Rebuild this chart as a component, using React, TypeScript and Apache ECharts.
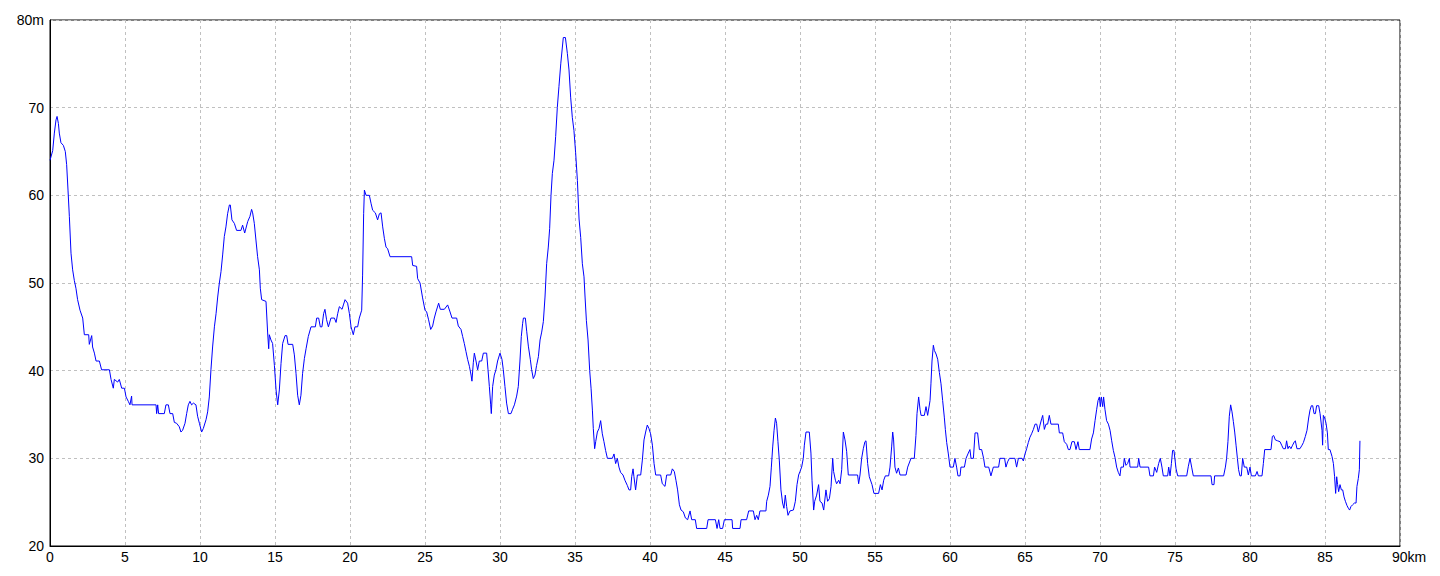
import React, { useEffect, useRef } from "react";
import * as echarts from "echarts";

// Distance along the route (km)
const distanceKm: number[] = [
  0, 0.18, 0.29, 0.4, 0.47, 0.56, 0.62, 0.73, 0.89, 1.02, 1.11, 1.2, 1.29, 1.4, 1.51, 1.62, 1.73, 1.84, 2.0, 2.18,
  2.29, 2.58, 2.62, 2.78, 2.84, 2.96, 3.07, 3.29, 3.44, 3.96, 4.07, 4.22, 4.29, 4.51, 4.62, 4.78, 4.96, 5.07, 5.22, 5.33,
  5.44, 5.47, 7.07, 7.11, 7.18, 7.24, 7.62, 7.73, 7.89, 8.0, 8.18, 8.29, 8.44, 8.62, 8.73, 8.84, 9.0, 9.11, 9.22, 9.33,
  9.44, 9.56, 9.73, 9.84, 9.96, 10.11, 10.22, 10.4, 10.51, 10.62, 10.73, 10.84, 10.96, 11.07, 11.18, 11.29, 11.4, 11.51, 11.62, 11.73,
  11.84, 11.96, 12.02, 12.13, 12.29, 12.44, 12.73, 12.84, 12.98, 13.18, 13.33, 13.44, 13.51, 13.62, 13.73, 13.84, 13.96, 14.02, 14.11, 14.4,
  14.51, 14.58, 14.62, 14.73, 14.84, 14.96, 15.07, 15.18, 15.29, 15.4, 15.51, 15.67, 15.78, 15.87, 16.18, 16.29, 16.4, 16.51, 16.62, 16.73,
  16.84, 16.96, 17.07, 17.22, 17.4, 17.69, 17.78, 17.91, 18.02, 18.13, 18.24, 18.33, 18.44, 18.56, 18.73, 18.96, 19.07, 19.18, 19.29, 19.47,
  19.56, 19.67, 19.84, 19.96, 20.07, 20.22, 20.33, 20.51, 20.62, 20.78, 20.84, 20.91,
  20.96, 21.07, 21.29, 21.4, 21.51, 21.69, 21.84, 21.96, 22.07, 22.18, 22.29, 22.4, 22.51, 22.67, 24.11, 24.18, 24.44, 24.51, 24.67, 24.84,
  25.0, 25.11, 25.24, 25.38, 25.51, 25.62, 25.73, 25.91, 26.02, 26.29, 26.51, 26.67, 26.8, 27.11, 27.22, 27.4, 27.51, 27.62, 27.73, 27.84,
  27.96, 28.07, 28.13, 28.22, 28.29, 28.4, 28.51, 28.62, 28.78, 28.89, 29.11, 29.2, 29.29, 29.38, 29.42, 29.51, 29.62, 29.73, 29.84, 30.0,
  30.13, 30.22, 30.33, 30.44, 30.56, 30.73, 30.84, 30.96, 31.11, 31.22, 31.33, 31.42, 31.51, 31.56, 31.69, 31.78, 31.89, 32.02, 32.11, 32.22,
  32.33, 32.44, 32.56, 32.67, 32.78, 32.89, 33.0, 33.11, 33.22, 33.31, 33.4, 33.49, 33.6, 33.71, 33.82, 33.93, 34.05, 34.22, 34.36, 34.49,
  34.6, 34.71, 34.82, 34.93, 35.04, 35.16, 35.27, 35.38, 35.49, 35.6, 35.67, 35.76, 35.87, 35.98, 36.07, 36.16, 36.22, 36.31, 36.38, 36.49,
  36.6, 36.71, 36.82, 36.93, 37.04, 37.16, 37.49, 37.6, 37.71, 37.82, 37.93, 38.04, 38.2, 38.33, 38.49, 38.6, 38.71, 38.78, 38.87, 38.93,
  39.04, 39.16, 39.38, 39.49, 39.6, 39.71, 39.82, 39.93, 40.04, 40.16, 40.27, 40.38, 40.71, 40.82, 41.0, 41.11, 41.38, 41.49,
  41.62, 41.73, 41.84, 41.96, 42.07, 42.22, 42.36, 42.51, 42.67, 42.78, 43.02, 43.11, 43.78, 43.87, 44.36, 44.47, 44.58, 44.67, 44.84, 44.96,
  45.47, 45.51, 46.0, 46.07, 46.44, 46.58, 46.89, 47.0, 47.11, 47.22, 47.33, 47.73, 47.78, 47.89, 48.0, 48.09, 48.18, 48.27, 48.36, 48.44,
  48.53, 48.62, 48.73, 48.84, 48.93, 49.02, 49.11, 49.2, 49.33, 49.56, 49.69, 49.8, 49.91, 50.0, 50.11, 50.22, 50.29, 50.4, 50.62, 50.73,
  50.8, 50.91, 50.98, 51.11, 51.24, 51.33, 51.47, 51.58, 51.73, 51.84, 51.96, 52.07, 52.18, 52.24, 52.36, 52.44, 52.58, 52.67, 52.78, 52.89,
  53.0, 53.11, 53.22, 53.84, 53.91, 54.0, 54.11, 54.22, 54.33, 54.4, 54.51, 54.62, 54.8, 54.93, 55.24, 55.36, 55.47, 55.58, 55.69, 55.91,
  56.0, 56.11, 56.18, 56.24, 56.33, 56.44, 56.56, 56.67, 57.07, 57.18, 57.4, 57.62,
  57.73, 57.8, 57.91, 58.0, 58.07, 58.29, 58.4, 58.51, 58.67, 58.73, 58.8, 58.89, 58.96, 59.07, 59.18, 59.29, 59.4, 59.51, 59.62, 59.69,
  59.78, 59.89, 60.0, 60.22, 60.33, 60.44, 60.53, 60.67, 60.73, 60.96, 61.07, 61.22, 61.33, 61.4, 61.56, 61.67, 61.84, 61.96, 62.11, 62.24,
  62.33, 62.58, 62.73, 62.89, 63.24, 63.33, 63.64, 63.73, 63.84, 63.96, 64.33, 64.44, 64.56, 64.8, 64.89, 65.0, 65.11, 65.22, 65.33, 65.44,
  65.56, 65.67, 65.78, 65.89, 66.0, 66.11, 66.18, 66.29, 66.4, 66.51, 66.62, 66.73, 67.22, 67.29, 67.51, 67.62, 67.78, 67.89, 68.0, 68.13,
  68.29, 68.4, 68.53, 68.62, 69.33, 69.44, 69.56, 69.67, 69.78, 69.87, 69.96, 70.02, 70.09, 70.18, 70.24, 70.33, 70.44, 70.56, 70.67, 70.78,
  70.89, 71.0, 71.11, 71.22, 71.33, 71.4, 71.56, 71.62, 71.73, 71.84, 71.96, 72.0, 72.51, 72.58, 72.67, 73.24, 73.33, 73.56, 73.64, 73.78,
  73.91, 74.02, 74.13, 74.22, 74.51, 74.58, 74.67, 74.76, 74.84, 74.93, 75.07, 75.18,
  75.29, 75.78, 75.89, 76.0, 76.11, 76.22, 77.4, 77.47, 77.6, 77.64, 78.24, 78.36, 78.44, 78.53, 78.62, 78.71, 78.8, 78.89, 78.98, 79.07,
  79.16, 79.24, 79.33, 79.42, 79.51, 79.62, 79.78, 79.89, 80.0, 80.09, 80.36, 80.47, 80.56, 80.8, 80.89, 80.98, 81.4, 81.49, 81.58, 81.69,
  81.84, 82.0, 82.11, 82.22, 82.36, 82.44, 82.53, 82.62, 82.73, 82.84, 82.96, 83.02, 83.13, 83.33, 83.47, 83.56, 83.69, 83.8, 83.91, 84.0,
  84.09, 84.18, 84.27, 84.36, 84.44, 84.58, 84.67, 84.8, 84.84, 84.89, 84.98, 85.07, 85.16, 85.22, 85.33, 85.47, 85.56, 85.64, 85.71, 85.78,
  85.84, 85.91, 86.0, 86.09, 86.18, 86.27, 86.36, 86.47, 86.56, 86.64, 86.73, 86.84, 86.96, 87.07, 87.13, 87.22, 87.29, 87.33,
];

// Elevation (m)
const elevationM: number[] = [
  64.0, 65.1, 67.1, 68.6, 69.0, 68.2, 67.1, 66.0, 65.7, 65.0, 63.5, 60.6, 57.6, 53.4, 51.5, 50.3, 49.4, 48.1, 46.9, 46.0,
  44.1, 44.1, 43.0, 44.0, 42.7, 42.0, 41.1, 41.1, 40.1, 40.1, 39.0, 38.0, 39.0, 38.7, 39.0, 38.0, 38.0, 37.0, 36.5, 36.1,
  37.1, 36.1, 36.1, 35.1, 36.1, 35.1, 35.1, 36.1, 36.1, 35.1, 35.1, 34.1, 34.0, 33.6, 33.0, 33.2, 34.0, 35.1, 36.1, 36.5,
  36.1, 36.3, 36.1, 34.8, 34.0, 33.0, 33.4, 34.4, 35.3, 37.0, 40.1, 42.7, 45.0, 46.5, 48.4, 50.0, 51.3, 53.2, 55.3, 56.4,
  57.9, 58.9, 58.9, 57.2, 56.8, 56.0, 56.0, 56.6, 55.7, 57.0, 57.6, 58.4, 58.0, 56.8, 54.9, 53.0, 51.5, 49.4, 48.1, 47.9,
  44.3, 42.5, 44.1, 43.5, 43.1, 40.6, 37.8, 36.1, 37.8, 40.8, 43.1, 44.0, 44.0, 43.0, 43.0, 41.8, 39.7, 37.2, 36.1, 37.2,
  39.7, 41.4, 42.5, 43.9, 45.0, 45.0, 46.0, 46.0, 45.0, 45.0, 46.5, 47.0, 45.8, 45.0, 46.0, 46.0, 45.5, 46.5, 47.3, 47.0,
  47.5, 48.1, 47.7, 46.5, 45.0, 44.1, 45.0, 45.0, 46.0, 46.9, 50.9, 57.9,
  60.6, 60.0, 60.0, 59.1, 58.3, 58.0, 57.2, 57.9, 58.0, 56.4, 55.1, 54.1, 53.9, 53.0, 53.0, 52.0, 51.9, 50.5, 50.0, 48.3,
  46.9, 46.7, 45.8, 44.7, 45.1, 46.0, 46.7, 47.7, 47.0, 47.0, 47.5, 46.7, 46.0, 46.0, 45.1, 44.7, 43.9, 43.1, 42.2, 41.3,
  40.5, 39.5, 38.8, 40.9, 42.0, 41.1, 40.1, 41.1, 41.1, 42.0, 42.0, 40.1, 38.2, 36.1, 35.1, 38.2, 39.5, 40.1, 41.1, 42.0,
  41.3, 40.1, 38.2, 36.3, 35.1, 35.1, 35.6, 36.1, 37.1, 38.2, 41.1, 43.9, 45.4, 46.0, 46.0, 44.5, 42.8, 41.3, 40.1, 39.1,
  39.5, 40.6, 41.6, 43.5, 44.4, 45.6, 48.4, 52.2, 54.1, 56.2, 60.0, 62.5, 64.0, 66.7, 70.0, 72.4, 75.0, 78.0, 78.0, 76.2,
  74.3, 71.2, 68.9, 67.4, 64.9, 61.7, 57.3, 55.2, 52.2, 50.7, 48.4, 45.7, 43.5, 40.0, 38.0, 35.5, 33.4, 31.1, 31.9, 33.0,
  33.4, 34.3, 32.8, 31.9, 30.9, 30.0, 30.0, 30.5, 29.4, 30.0, 29.0, 28.4, 28.1, 27.5, 26.9, 26.4, 26.4, 27.9, 28.8, 27.9,
  26.4, 28.1, 28.1, 29.8, 32.1, 33.0, 33.8, 33.4, 32.8, 31.5, 29.4, 28.1, 28.1, 27.1, 26.8, 28.1, 28.1, 28.8,
  28.5, 27.5, 26.4, 24.7, 24.1, 23.9, 23.2, 23.0, 24.0, 23.0, 23.0, 22.0, 22.0, 23.0, 23.0, 22.0, 23.0, 22.0, 22.0, 23.0,
  23.0, 22.0, 22.0, 23.0, 23.0, 24.0, 24.0, 23.0, 23.5, 23.0, 24.0, 24.0, 25.1, 25.8, 26.8, 29.0, 31.3, 33.2, 34.6, 34.0,
  31.9, 29.8, 26.4, 24.9, 24.3, 25.8, 24.5, 23.5, 24.0, 24.1, 25.1, 27.0, 28.1, 28.5, 29.0, 30.0, 31.5, 33.0, 33.0, 30.6,
  27.5, 24.1, 25.1, 25.8, 27.0, 25.1, 24.9, 24.1, 26.4, 25.1, 25.4, 26.8, 30.0, 28.5, 27.5, 27.1, 27.5, 27.1, 28.7, 33.0,
  32.1, 30.8, 28.1, 28.1, 27.1, 28.1, 30.0, 31.1, 31.9, 32.0, 29.4, 27.9, 27.0, 26.0, 26.0, 27.0, 26.4, 27.5, 28.0, 28.0,
  29.0, 31.3, 33.0, 32.1, 29.0, 28.3, 28.9, 28.1, 28.1, 29.0, 30.0, 30.0,
  32.6, 35.1, 37.0, 35.6, 34.9, 34.9, 35.9, 34.9, 36.6, 38.5, 41.1, 42.9, 42.3, 41.9, 41.3, 39.8, 38.5, 36.6, 34.7, 33.3,
  31.8, 30.5, 29.0, 29.0, 30.0, 29.0, 28.0, 28.0, 29.0, 29.0, 30.0, 30.6, 31.0, 30.0, 30.0, 32.9, 32.9, 31.0, 31.0, 30.0,
  29.0, 29.0, 28.0, 29.0, 29.0, 30.0, 30.0, 29.0, 29.6, 30.0, 30.0, 29.0, 30.0, 30.0, 29.7, 30.5, 31.1, 31.8, 32.4, 32.8,
  33.3, 33.9, 33.9, 33.0, 33.8, 34.5, 34.9, 33.3, 33.9, 33.9, 34.9, 33.9, 33.9, 32.9, 32.9, 31.9, 31.6, 31.0, 31.0, 31.9,
  31.9, 31.0, 31.9, 31.0, 31.0, 32.2, 32.9, 34.3, 35.6, 36.6, 37.0, 35.9, 37.0, 35.9, 37.0, 35.6, 34.3, 33.9, 33.2, 32.0,
  30.9, 30.1, 29.0, 28.4, 28.0, 29.0, 29.0, 30.0, 29.2, 29.4, 30.0, 29.0, 29.0, 30.0, 29.0, 29.0, 28.0, 28.0, 29.0, 28.4,
  29.4, 30.0, 29.0, 28.0, 28.0, 29.0, 28.0, 29.4, 30.9, 30.9, 28.8, 28.0,
  28.0, 28.0, 29.1, 30.0, 29.0, 28.0, 28.0, 27.0, 27.0, 28.0, 28.0, 29.0, 30.0, 31.9, 34.8, 36.1, 35.3, 34.2, 33.0, 31.5,
  30.0, 28.7, 28.0, 28.0, 30.0, 29.0, 29.0, 28.1, 29.0, 28.0, 28.0, 28.5, 28.0, 28.0, 29.4, 31.0, 31.0, 32.5, 32.6, 32.1,
  32.0, 31.9, 31.5, 31.1, 31.1, 32.0, 31.1, 31.4, 31.1, 31.5, 31.9, 32.0, 31.1, 31.1, 31.5, 31.8, 32.5, 33.2, 34.6, 35.5,
  36.0, 36.0, 35.1, 35.1, 36.0, 36.0, 35.1, 33.2, 31.5, 34.9, 34.6, 34.0, 32.9, 31.0, 31.0, 30.2, 29.4, 27.9, 26.0, 27.9,
  27.0, 26.2, 27.0, 26.4, 26.4, 25.6, 25.1, 24.6, 24.3, 24.1, 24.5, 24.7, 24.9, 24.9, 26.8, 27.7, 28.7, 32.0,
];

const xTicks = { min: 0, max: 90, step: 5 };
const yTicks = { min: 20, max: 80, step: 10 };

export default function App() {
  const ref = useRef<HTMLDivElement>(null);

  useEffect(() => {
    if (!ref.current) return;
    const chart = echarts.init(ref.current, null, { renderer: "svg" });
    const points = distanceKm.map((d, i) => [d, elevationM[i]]);
    const font = "'Liberation Sans', Arial, sans-serif";
    chart.setOption({
      animation: false,
      backgroundColor: "#ffffff",
      grid: {
        left: 50,
        right: 40,
        top: 20,
        bottom: 30,
        show: true,
        borderColor: "#000000",
        borderWidth: 1,
        backgroundColor: "transparent",
      },
      xAxis: {
        type: "value",
        min: xTicks.min,
        max: xTicks.max,
        interval: xTicks.step,
        axisLine: { show: true, lineStyle: { color: "#000000", width: 1 } },
        axisTick: { show: false },
        splitLine: { show: true, lineStyle: { color: "#c0c0c0", type: [3, 3], width: 1 } },
        axisLabel: {
          color: "#000000",
          fontFamily: font,
          fontSize: 14,
          margin: 4,
          formatter: (v: number) => (v === xTicks.max ? "{k|" + v + "km}" : String(v)),
          rich: {
            k: { color: "#000000", fontFamily: font, fontSize: 14, padding: [0, 0, 0, 18] },
          },
        },
      },
      yAxis: {
        type: "value",
        min: yTicks.min,
        max: yTicks.max,
        interval: yTicks.step,
        axisLine: { show: true, lineStyle: { color: "#000000", width: 1 } },
        axisTick: { show: false },
        splitLine: { show: true, lineStyle: { color: "#c0c0c0", type: [3, 3], width: 1 } },
        axisLabel: {
          color: "#000000",
          fontFamily: font,
          fontSize: 14,
          margin: 6,
          formatter: (v: number) => (v === yTicks.max ? v + "m" : String(v)),
        },
      },
      series: [
        {
          type: "line",
          data: points,
          showSymbol: false,
          symbol: "none",
          smooth: false,
          lineStyle: { color: "#0000ff", width: 1 },
          z: 3,
        },
      ],
    });
    return () => chart.dispose();
  }, []);

  return (
    <div
      ref={ref}
      style={{ position: "absolute", left: 0, top: 0, width: 1440, height: 576, background: "#fff" }}
    />
  );
}
